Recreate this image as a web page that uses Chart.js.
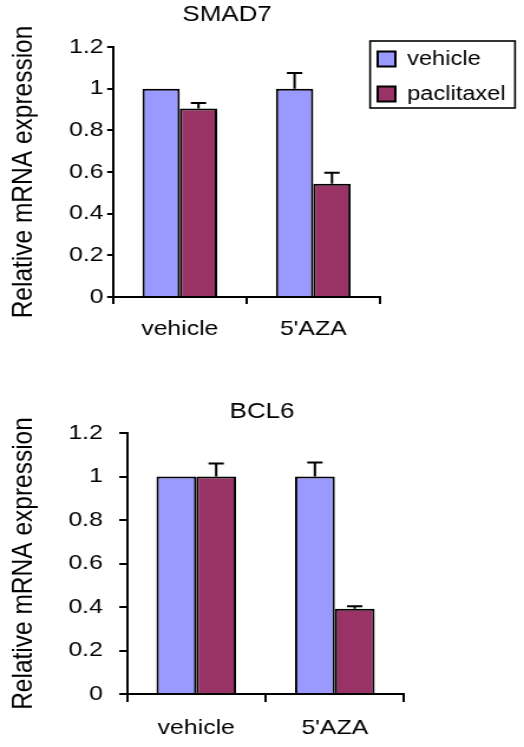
<!DOCTYPE html>
<html>
<head>
<meta charset="utf-8">
<script src="https://cdn.jsdelivr.net/npm/chart.js@4.4.1/dist/chart.umd.min.js"></script>
<style>
html, body { margin: 0; padding: 0; background: #fff; }
canvas { display: block; }
</style>
</head>
<body>
<!-- drawn narrow and stretched sideways, like the scanned figure -->
<canvas id="smad7" width="444" height="370" style="width:524px;height:370px"></canvas>
<canvas id="bcl6" width="444" height="377" style="width:524px;height:377px"></canvas>
<script>
var groups = ['vehicle', "5'AZA"];
var seriesNames = ['vehicle', 'paclitaxel'];
var yTicks = [0, 0.2, 0.4, 0.6, 0.8, 1, 1.2];

var smadVehicle = [1, 1];
var smadVehicleErr = [0, 0.075];
var smadPaclitaxel = [0.905, 0.544];
var smadPaclitaxelErr = [0.026, 0.053];

var bclVehicle = [1, 1];
var bclVehicleErr = [0, 0.064];
var bclPaclitaxel = [1, 0.392];
var bclPaclitaxelErr = [0.06, 0.012];

var colors = ['#9999ff', '#993366'];

Chart.defaults.font.family = "'Liberation Sans', Arial, sans-serif";
Chart.defaults.color = '#000';

// error bars: stem up from the bar top plus a cap
var errorBars = {
  id: 'errorBars',
  afterDatasetsDraw: function (chart) {
    var ctx = chart.ctx;
    var y = chart.scales.y;
    ctx.save();
    ctx.strokeStyle = '#000';
    ctx.lineWidth = 2;
    chart.data.datasets.forEach(function (ds, i) {
      chart.getDatasetMeta(i).data.forEach(function (bar, j) {
        var e = ds.errors[j];
        if (!e) return;
        var top = y.getPixelForValue(ds.data[j] + e);
        ctx.beginPath();
        ctx.moveTo(bar.x, bar.y);
        ctx.lineTo(bar.x, top);
        ctx.moveTo(bar.x - 6.5, top);
        ctx.lineTo(bar.x + 6.5, top);
        ctx.stroke();
      });
    });
    ctx.restore();
  }
};

// title centred at a set x, legend moved to the top right with a box round it
var placement = {
  id: 'placement',
  afterLayout: function (chart, args, opts) {
    var t = chart.titleBlock;
    var w = t.right - t.left;
    t.left = opts.titleX - w / 2;
    t.right = opts.titleX + w / 2;
    if (opts.legend) {
      var l = chart.legend;
      l.left = opts.legend.left;
      l.top = opts.legend.top;
      l.right = l.left + l.width;
      l.bottom = l.top + l.height;
    }
  },
  afterDraw: function (chart, args, opts) {
    if (!opts.frame) return;
    var ctx = chart.ctx;
    var f = opts.frame;
    ctx.save();
    ctx.strokeStyle = '#000';
    ctx.lineWidth = 1.6;
    ctx.strokeRect(f.x, f.y, f.w, f.h);
    ctx.restore();
  }
};

function makeConfig(title, vehicle, vehicleErr, pacli, pacliErr, o) {
  return {
    type: 'bar',
    data: {
      labels: groups,
      datasets: [
        { label: seriesNames[0], data: vehicle, errors: vehicleErr, backgroundColor: colors[0],
          borderColor: '#000', borderWidth: 2, categoryPercentage: o.catPct, barPercentage: 1 },
        { label: seriesNames[1], data: pacli, errors: pacliErr, backgroundColor: colors[1],
          borderColor: '#000', borderWidth: 2, categoryPercentage: o.catPct, barPercentage: 1 }
      ]
    },
    options: {
      responsive: false,
      animation: false,
      devicePixelRatio: 1,
      events: [],
      layout: { padding: o.padding },
      scales: {
        x: {
          grid: { offset: true, drawOnChartArea: false, tickLength: o.xTick, color: '#000', lineWidth: 2 },
          border: { color: '#000', width: 2 },
          ticks: { font: { size: 21 }, padding: o.xPad }
        },
        y: {
          min: 0,
          max: 1.2,
          afterBuildTicks: function (s) {
            s.ticks = yTicks.map(function (v) { return { value: v }; });
          },
          ticks: {
            font: { size: 21 },
            padding: o.yPad,
            callback: function (v) { return String(+v.toFixed(1)); }
          },
          grid: { drawOnChartArea: false, tickLength: o.yTick, color: '#000', lineWidth: 2 },
          border: { color: '#000', width: 2 },
          title: {
            display: true,
            text: 'Relative mRNA expression',
            font: { size: 24.5 },
            padding: o.yTitlePad
          }
        }
      },
      plugins: {
        title: {
          display: true,
          text: title,
          font: { size: 22, weight: 'normal' },
          padding: o.titlePad
        },
        legend: o.legend,
        tooltip: { enabled: false },
        placement: o.placement
      }
    },
    plugins: [errorBars, placement]
  };
}

var ctx = document.getElementById('smad7').getContext('2d');
var smadChart = new Chart(ctx, makeConfig('SMAD7', smadVehicle, smadVehicleErr, smadPaclitaxel, smadPaclitaxelErr, {
  catPct: 0.56,
  padding: { left: 0, right: 122, top: 0, bottom: 14.8 },
  xTick: 7, xPad: 13,
  yPad: 3, yTick: 5,
  yTitlePad: { top: 5.3, bottom: 20.9 },
  titlePad: { top: 1.5, bottom: 19.1 },
  legend: {
    position: 'chartArea',
    align: 'start',
    labels: { font: { size: 20 }, boxWidth: 15, boxHeight: 15, padding: 15, color: '#000' }
  },
  placement: {
    titleX: 192.4,
    legend: { left: 305, top: 34 },
    frame: { x: 313.6, y: 41, w: 122.8, h: 67 }
  }
}));

var ctx = document.getElementById('bcl6').getContext('2d');
var bclChart = new Chart(ctx, makeConfig('BCL6', bclVehicle, bclVehicleErr, bclPaclitaxel, bclPaclitaxelErr, {
  catPct: 0.575,
  padding: { left: 0, right: 101.6, top: 0, bottom: -7.6 },
  xTick: 8, xPad: 13.7,
  yPad: 14, yTick: 6.5,
  yTitlePad: { top: 5.3, bottom: 9.2 },
  titlePad: { top: 28.8, bottom: 7.8 },
  legend: { display: false },
  placement: { titleX: 222 }
}));
</script>
</body>
</html>
